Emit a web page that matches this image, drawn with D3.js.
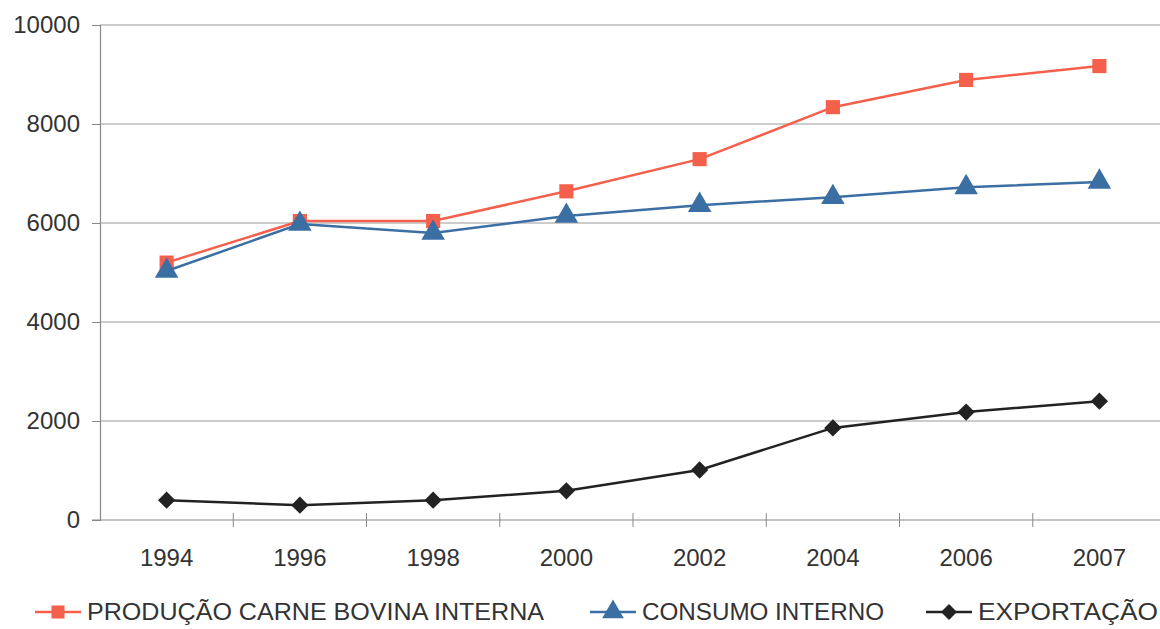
<!DOCTYPE html>
<html lang="pt">
<head>
<meta charset="UTF-8">
<title>carne bovina</title>
<style>
  body { margin: 0; background: #fff; }
  svg { display: block; }
  .axis text { font: 24px "Liberation Sans", Arial, sans-serif; fill: #333; }
  .legend text { font: 24px "Liberation Sans", Arial, sans-serif; fill: #333; }
</style>
</head>
<body>
<div id="chart"></div>
<script src="https://cdn.jsdelivr.net/npm/d3@7"></script>
<script>
var years = ["1994", "1996", "1998", "2000", "2002", "2004", "2006", "2007"];
var producao = [5200, 6040, 6040, 6640, 7290, 8340, 8890, 9170];
var consumo = [5030, 5980, 5800, 6140, 6360, 6520, 6720, 6830];
var exportacao = [400, 300, 400, 590, 1010, 1860, 2180, 2400];
var yTicks = [0, 2000, 4000, 6000, 8000, 10000];

var seriesNames = ["PRODUÇÃO CARNE BOVINA INTERNA", "CONSUMO INTERNO", "EXPORTAÇÃO"];
var seriesColors = ["#f4604c", "#3b6fa4", "#222222"];
var seriesSymbols = [d3.symbolSquare, d3.symbolTriangle, d3.symbolSquare];
var seriesRotate = [0, 0, 45];
var seriesSize = [200, 240, 150];
var seriesValues = [producao, consumo, exportacao];

var width = 1160, height = 629;
var margin = { left: 100, right: -6, top: 25, bottom: 109 };

var svg = d3.select("#chart").append("svg")
  .attr("width", width)
  .attr("height", height);

var x = d3.scaleBand()
  .domain(years)
  .range([margin.left, width - margin.right]);

var y = d3.scaleLinear()
  .domain([0, 10000])
  .range([height - margin.bottom, margin.top]);

// grid
svg.append("g")
  .selectAll("line")
  .data(yTicks.filter(function (d) { return d > 0; }))
  .enter().append("line")
  .attr("x1", margin.left)
  .attr("x2", width)
  .attr("y1", function (d) { return y(d); })
  .attr("y2", function (d) { return y(d); })
  .attr("stroke", "#9a9a9a")
  .attr("stroke-width", 1.2);

// y axis
var yAxis = svg.append("g")
  .attr("class", "axis")
  .attr("transform", "translate(" + margin.left + ",0)")
  .call(d3.axisLeft(y).tickValues(yTicks).tickSize(8).tickPadding(12).tickFormat(d3.format("d")));
yAxis.select(".domain").attr("stroke", "#888").attr("stroke-width", 1.2);
yAxis.selectAll(".tick line").attr("stroke", "#888");

// x axis: ticks at band boundaries
var xAxis = svg.append("g")
  .attr("class", "axis")
  .attr("transform", "translate(0," + y(0) + ")");
xAxis.append("line")
  .attr("x1", margin.left - 8)
  .attr("x2", width)
  .attr("stroke", "#888")
  .attr("stroke-width", 1.2);
xAxis.selectAll(".bt")
  .data(years.slice(1))
  .enter().append("line")
  .attr("x1", function (d) { return x(d); })
  .attr("x2", function (d) { return x(d); })
  .attr("y1", -7)
  .attr("y2", 7)
  .attr("stroke", "#888");
xAxis.selectAll("text")
  .data(years)
  .enter().append("text")
  .attr("x", function (d) { return x(d) + x.bandwidth() / 2; })
  .attr("y", 46)
  .attr("text-anchor", "middle")
  .text(function (d) { return d; });

var line = d3.line()
  .x(function (d, i) { return x(years[i]) + x.bandwidth() / 2; })
  .y(function (d) { return y(d); });

seriesValues.forEach(function (vals, s) {
  svg.append("path")
    .datum(vals)
    .attr("d", line)
    .attr("fill", "none")
    .attr("stroke", seriesColors[s])
    .attr("stroke-width", 2.5);
  svg.append("g").selectAll("path")
    .data(vals)
    .enter().append("path")
    .attr("transform", function (d, i) {
      return "translate(" + (x(years[i]) + x.bandwidth() / 2) + "," + y(d) + ") rotate(" + seriesRotate[s] + ")";
    })
    .attr("d", d3.symbol().type(seriesSymbols[s]).size(seriesSize[s]))
    .attr("fill", seriesColors[s]);
});

// legend
var legendX = [35, 590, 926];
var legendTextLen = [457, 242, 180];
var legend = svg.append("g").attr("class", "legend")
  .attr("transform", "translate(0,612)");
seriesNames.forEach(function (name, s) {
  var g = legend.append("g").attr("transform", "translate(" + legendX[s] + ",0)");
  g.append("line").attr("x1", 0).attr("x2", 46)
    .attr("stroke", seriesColors[s]).attr("stroke-width", 2.5);
  g.append("path").attr("transform", "translate(23,0) rotate(" + seriesRotate[s] + ")")
    .attr("d", d3.symbol().type(seriesSymbols[s]).size(seriesSize[s] * 0.85))
    .attr("fill", seriesColors[s]);
  g.append("text").attr("x", 52).attr("dy", "0.35em")
    .attr("textLength", legendTextLen[s])
    .attr("lengthAdjust", "spacingAndGlyphs")
    .text(name);
});
</script>
</body>
</html>
